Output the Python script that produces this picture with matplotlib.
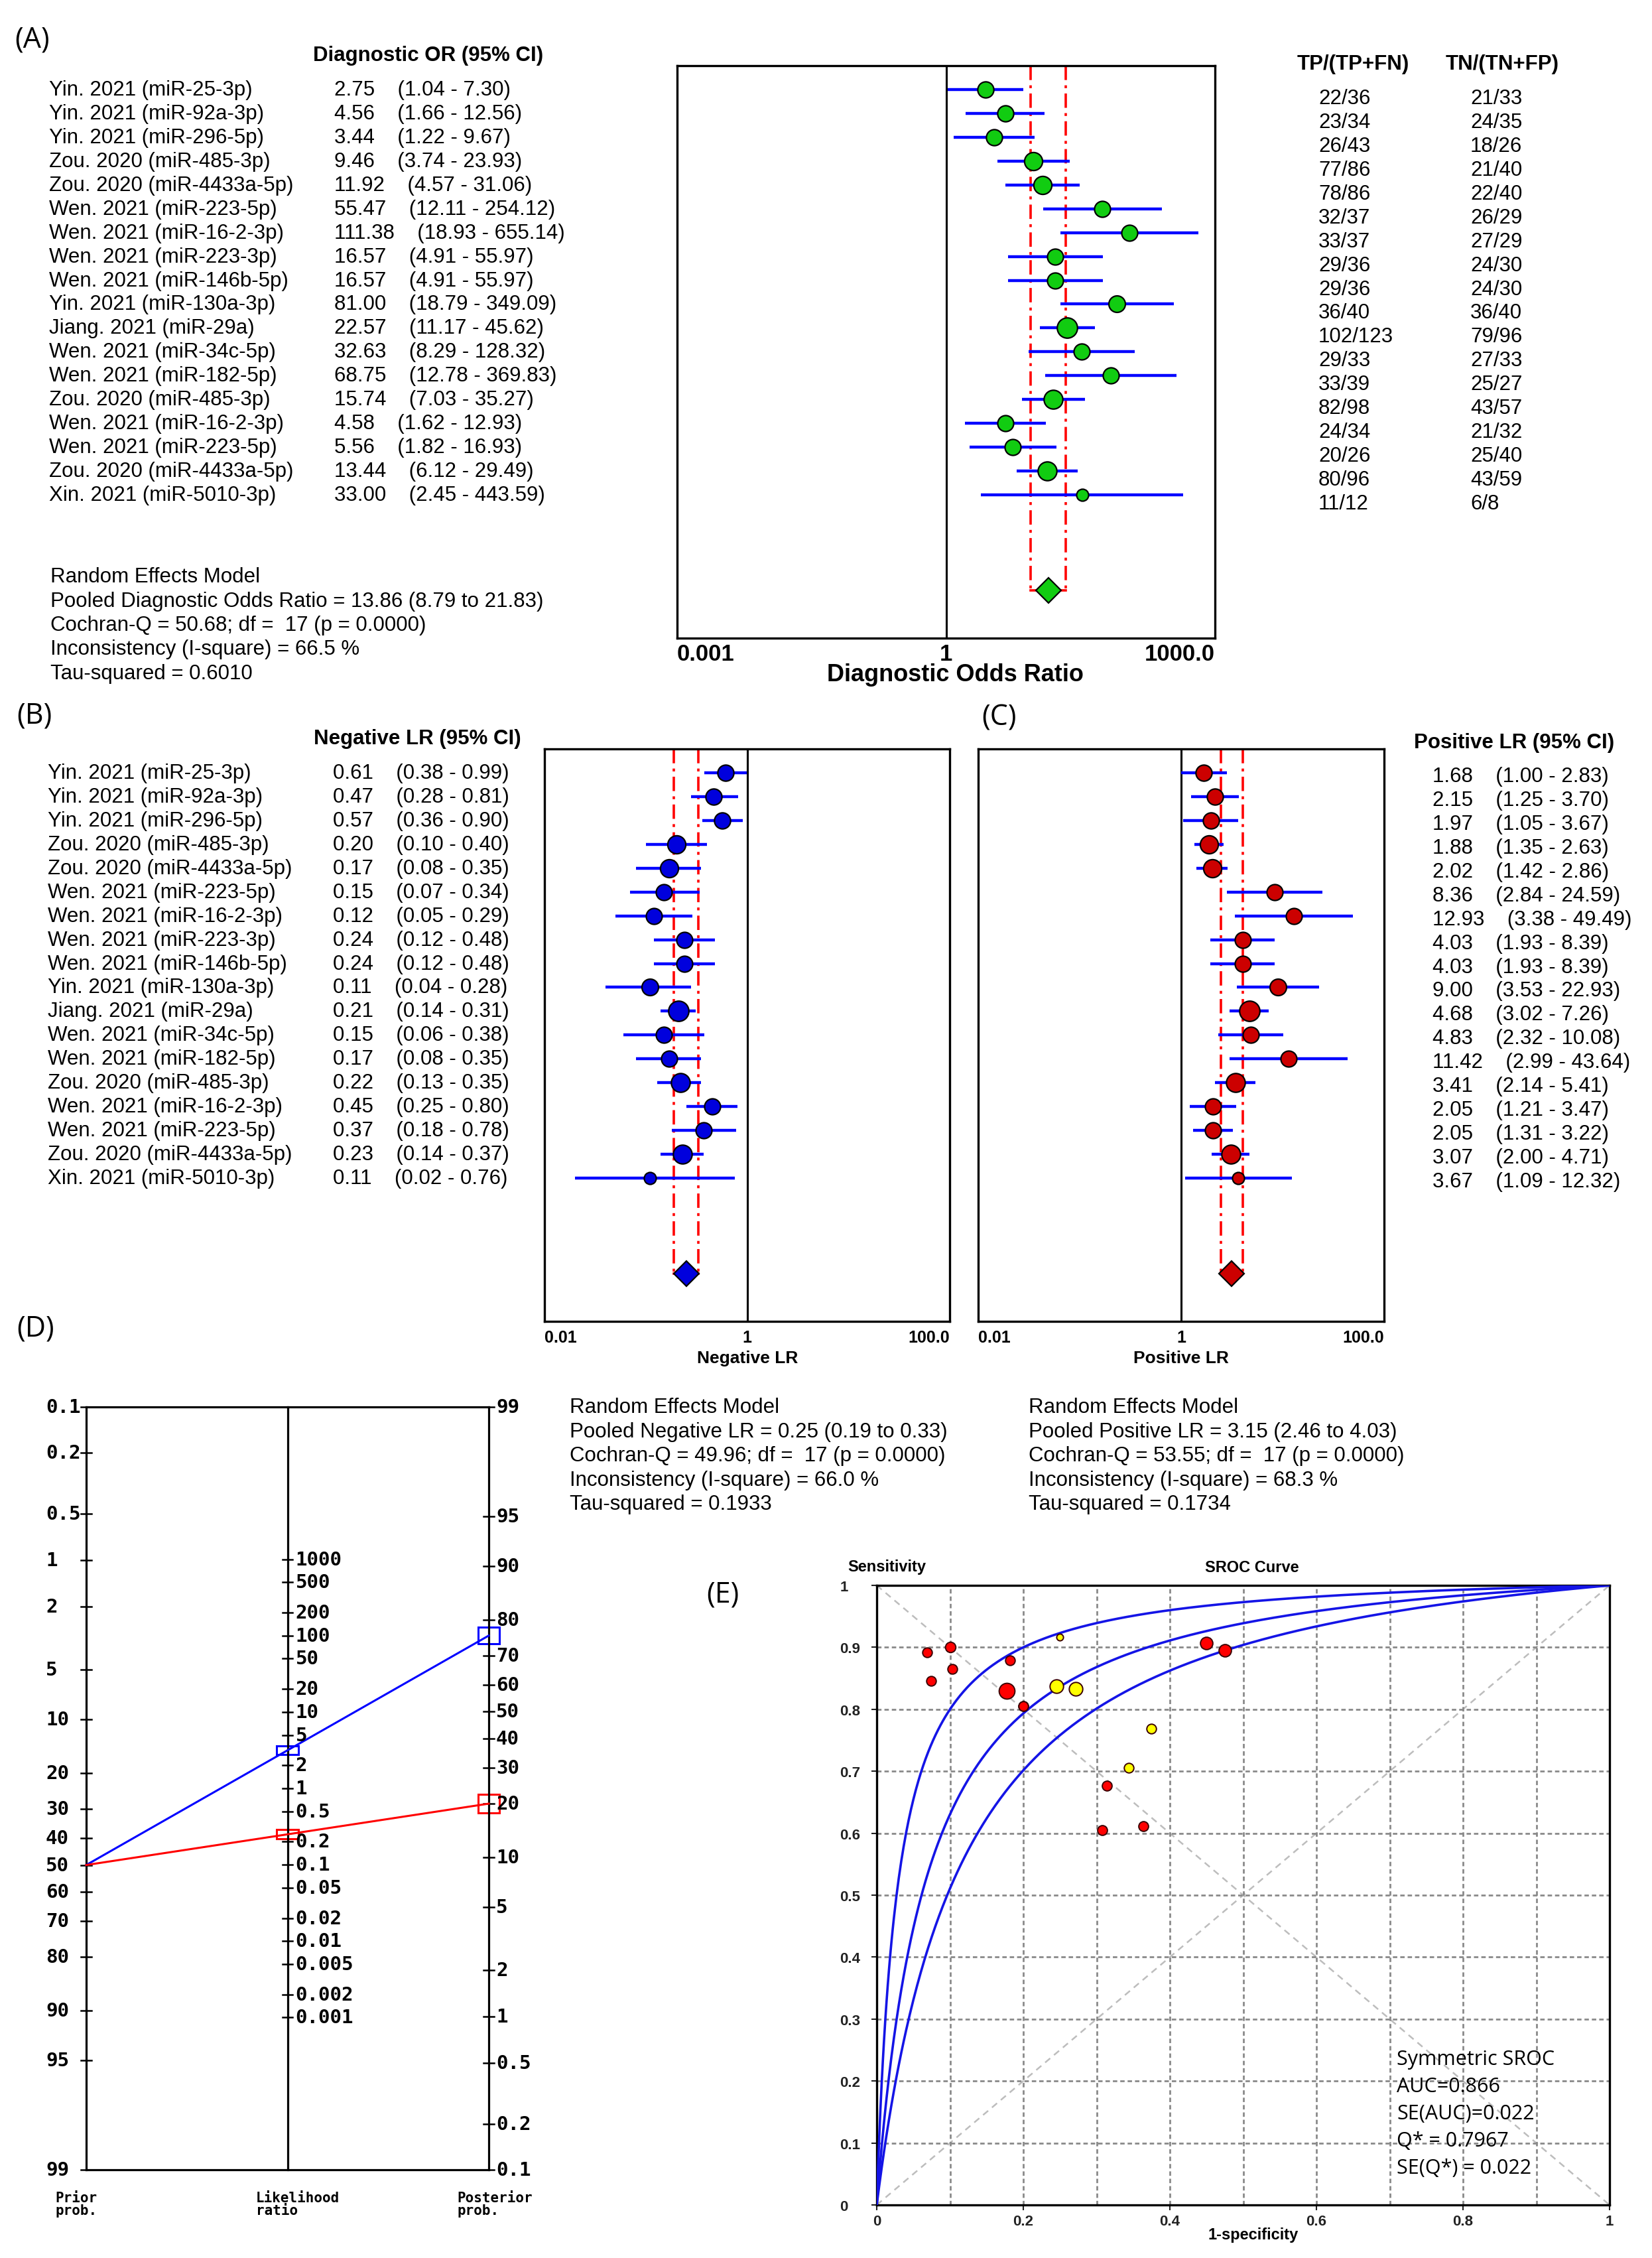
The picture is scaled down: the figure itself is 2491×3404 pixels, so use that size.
import numpy as np
import matplotlib
matplotlib.use("Agg")
import matplotlib.pyplot as plt
from matplotlib.patches import Rectangle
from matplotlib.ticker import NullLocator

plt.rcParams['font.family'] = ['Liberation Sans', 'DejaVu Sans']

# ---------------- data ----------------
studies = ["Yin. 2021 (miR-25-3p)", "Yin. 2021 (miR-92a-3p)", "Yin. 2021 (miR-296-5p)",
           "Zou. 2020 (miR-485-3p)", "Zou. 2020 (miR-4433a-5p)", "Wen. 2021 (miR-223-5p)",
           "Wen. 2021 (miR-16-2-3p)", "Wen. 2021 (miR-223-3p)", "Wen. 2021 (miR-146b-5p)",
           "Yin. 2021 (miR-130a-3p)", "Jiang. 2021 (miR-29a)", "Wen. 2021 (miR-34c-5p)",
           "Wen. 2021 (miR-182-5p)", "Zou. 2020 (miR-485-3p)", "Wen. 2021 (miR-16-2-3p)",
           "Wen. 2021 (miR-223-5p)", "Zou. 2020 (miR-4433a-5p)", "Xin. 2021 (miR-5010-3p)"]

dor = [2.75, 4.56, 3.44, 9.46, 11.92, 55.47, 111.38, 16.57, 16.57, 81.00, 22.57, 32.63, 68.75, 15.74, 4.58, 5.56, 13.44, 33.00]
dor_lo = [1.04, 1.66, 1.22, 3.74, 4.57, 12.11, 18.93, 4.91, 4.91, 18.79, 11.17, 8.29, 12.78, 7.03, 1.62, 1.82, 6.12, 2.45]
dor_hi = [7.30, 12.56, 9.67, 23.93, 31.06, 254.12, 655.14, 55.97, 55.97, 349.09, 45.62, 128.32, 369.83, 35.27, 12.93, 16.93, 29.49, 443.59]

nlr = [0.61, 0.47, 0.57, 0.20, 0.17, 0.15, 0.12, 0.24, 0.24, 0.11, 0.21, 0.15, 0.17, 0.22, 0.45, 0.37, 0.23, 0.11]
nlr_lo = [0.38, 0.28, 0.36, 0.10, 0.08, 0.07, 0.05, 0.12, 0.12, 0.04, 0.14, 0.06, 0.08, 0.13, 0.25, 0.18, 0.14, 0.02]
nlr_hi = [0.99, 0.81, 0.90, 0.40, 0.35, 0.34, 0.29, 0.48, 0.48, 0.28, 0.31, 0.38, 0.35, 0.35, 0.80, 0.78, 0.37, 0.76]

plr = [1.68, 2.15, 1.97, 1.88, 2.02, 8.36, 12.93, 4.03, 4.03, 9.00, 4.68, 4.83, 11.42, 3.41, 2.05, 2.05, 3.07, 3.67]
plr_lo = [1.00, 1.25, 1.05, 1.35, 1.42, 2.84, 3.38, 1.93, 1.93, 3.53, 3.02, 2.32, 2.99, 2.14, 1.21, 1.31, 2.00, 1.09]
plr_hi = [2.83, 3.70, 3.67, 2.63, 2.86, 24.59, 49.49, 8.39, 8.39, 22.93, 7.26, 10.08, 43.64, 5.41, 3.47, 3.22, 4.71, 12.32]

tp = [22, 23, 26, 77, 78, 32, 33, 29, 29, 36, 102, 29, 33, 82, 24, 20, 80, 11]
n_dis = [36, 34, 43, 86, 86, 37, 37, 36, 36, 40, 123, 33, 39, 98, 34, 26, 96, 12]
tn = [21, 24, 18, 21, 22, 26, 27, 24, 24, 36, 79, 27, 25, 43, 21, 25, 43, 6]
n_ndis = [33, 35, 26, 40, 40, 29, 29, 30, 30, 40, 96, 33, 27, 57, 32, 40, 59, 8]
sroc_group = [0, 0, 0, 0, 0, 0, 0, 0, 0, 0, 0, 0, 0, 1, 1, 1, 1, 1]

dor_pool = [13.86, 8.79, 21.83]
nlr_pool = [0.25, 0.19, 0.33]
plr_pool = [3.15, 2.46, 4.03]

stats_a = ["Cochran-Q = 50.68; df =  17 (p = 0.0000)", "Inconsistency (I-square) = 66.5 %", "Tau-squared = 0.6010"]
stats_b = ["Cochran-Q = 49.96; df =  17 (p = 0.0000)", "Inconsistency (I-square) = 66.0 %", "Tau-squared = 0.1933"]
stats_c = ["Cochran-Q = 53.55; df =  17 (p = 0.0000)", "Inconsistency (I-square) = 68.3 %", "Tau-squared = 0.1734"]

# fagan nomogram
pretest = 50
prior_ticks = [0.1, 0.2, 0.5, 1, 2, 5, 10, 20, 30, 40, 50, 60, 70, 80, 90, 95, 99]
lr_ticks = [1000, 500, 200, 100, 50, 20, 10, 5, 2, 1, 0.5, 0.2, 0.1, 0.05, 0.02, 0.01, 0.005, 0.002, 0.001]
post_ticks = [99, 95, 90, 80, 70, 60, 50, 40, 30, 20, 10, 5, 2, 1, 0.5, 0.2, 0.1]

# SROC (symmetric curve + two bounds, DOR)
sroc_dor = [36.0, 15.36, 9.4]
sroc_text = ["Symmetric SROC", "AUC=0.866", "SE(AUC)=0.022", "Q* = 0.7967", "SE(Q*) = 0.022"]

# ---------------- layout helpers (pixels) ----------------
W, H = 2491, 3405
fig = plt.figure(figsize=(W / 100, H / 100), dpi=100)
FS = 22.5
ROW = 35.94


def box(x0, y0, x1, y1):
    return [x0 / W, 1 - y1 / H, (x1 - x0) / W, (y1 - y0) / H]


def ptext(x, y, s, **kw):
    kw.setdefault('va', 'center')
    kw.setdefault('fontsize', FS)
    return fig.text(x / W, 1 - y / H, s, **kw)


n_tot = np.array(n_dis) + np.array(n_ndis)
marker_ms = 13 + 9 * np.sqrt((n_tot - n_tot.min()) / (n_tot.max() - n_tot.min()))


def forest(rect, est, lo, hi, pooled, xlim, ticklabels, face, tick_fs, tick_pad):
    ax = fig.add_axes(box(*rect))
    ax.set_xscale('log')
    ax.set_xlim(xlim)
    ax.set_ylim(23, -1)
    rows = np.arange(len(est))
    ax.axvline(1, color='black', lw=2.2, zorder=1)
    p, plo, phi = pooled
    for x in (plo, phi):
        ax.plot([x, x], [-1, 21], color='red', lw=2.6, ls=(0, (6, 2.2, 1.2, 2.2)), zorder=2)
    ax.plot([plo, phi], [21, 21], color='red', lw=2.6, zorder=2)
    ax.hlines(rows, lo, hi, color='#0000ff', lw=3.2, zorder=3)
    for r, e, s in zip(rows, est, marker_ms):
        ax.plot(e, r, 'o', ms=s, mfc=face, mec='black', mew=1.6, zorder=4)
    ax.plot(p, 21, 'D', ms=19, mfc=face, mec='black', mew=1.6, zorder=4)
    ax.set_yticks([])
    ax.set_xticks([xlim[0], 1, xlim[1]])
    ax.xaxis.set_minor_locator(NullLocator())
    ax.set_xticklabels(ticklabels, fontsize=tick_fs, fontweight='bold')
    labs = ax.get_xticklabels()
    labs[0].set_ha('left')
    labs[-1].set_ha('right')
    ax.tick_params(axis='x', length=0, pad=tick_pad)
    for sp in ax.spines.values():
        sp.set_linewidth(2.4)
    return ax


def panel_letter(x, y, s):
    ptext(x, y, s, fontsize=31, family='Open Sans', ha='left')


# ---------------- (A) diagnostic OR ----------------
panel_letter(22, 60, "(A)")
ptext(646, 84, "Diagnostic OR (95% CI)", ha='center', fontweight='bold')
for i, name in enumerate(studies):
    y = 136 + i * ROW
    ptext(74, y, name)
    ptext(504, y, f"{dor[i]:.2f}    ({dor_lo[i]:.2f} - {dor_hi[i]:.2f})")
    ptext(1988, y + 13, f"{tp[i]}/{n_dis[i]}")
    ptext(2217, y + 13, f"{tn[i]}/{n_ndis[i]}")
ptext(2040, 97, "TP/(TP+FN)", ha='center', fontweight='bold')
ptext(2265, 97, "TN/(TN+FP)", ha='center', fontweight='bold')
forest((1021, 136 - ROW, 1832, 136 + 23 * ROW), dor, dor_lo, dor_hi, dor_pool,
       (1e-3, 1e3), ["0.001", "1", "1000.0"], '#11cc11', 25, 5)
ptext(1440, 1018, "Diagnostic Odds Ratio", ha='center', fontweight='bold', fontsize=26)
lines_a = ["Random Effects Model",
           "Pooled Diagnostic Odds Ratio = %.2f (%.2f to %.2f)" % tuple(dor_pool)] + stats_a
for k, s in enumerate(lines_a):
    ptext(76, 870 + k * 36.5, s)

# ---------------- (B) negative LR ----------------
panel_letter(25, 1079, "(B)")
ptext(629, 1114, "Negative LR (95% CI)", ha='center', fontweight='bold')
for i, name in enumerate(studies):
    y = 1166 + i * ROW
    ptext(72, y, name)
    ptext(502, y, f"{nlr[i]:.2f}    ({nlr_lo[i]:.2f} - {nlr_hi[i]:.2f})")
forest((821, 1166 - ROW, 1432, 1166 + 23 * ROW), nlr, nlr_lo, nlr_hi, nlr_pool,
       (1e-2, 1e2), ["0.01", "1", "100.0"], '#0000dd', 18, 9)
ptext(1127, 2048, "Negative LR", ha='center', fontweight='bold', fontsize=19)
lines_b = ["Random Effects Model",
           "Pooled Negative LR = %.2f (%.2f to %.2f)" % tuple(nlr_pool)] + stats_b
for k, s in enumerate(lines_b):
    ptext(859, 2122 + k * 36.6, s)

# ---------------- (C) positive LR ----------------
panel_letter(1480, 1082, "(C)")
ptext(2283, 1120, "Positive LR (95% CI)", ha='center', fontweight='bold')
for i in range(len(studies)):
    y = 1171 + i * ROW
    ptext(2160, y, f"{plr[i]:.2f}    ({plr_lo[i]:.2f} - {plr_hi[i]:.2f})")
forest((1475, 1166 - ROW, 2087, 1166 + 23 * ROW), plr, plr_lo, plr_hi, plr_pool,
       (1e-2, 1e2), ["0.01", "1", "100.0"], '#cc0000', 18, 9)
ptext(1781, 2048, "Positive LR", ha='center', fontweight='bold', fontsize=19)
lines_c = ["Random Effects Model",
           "Pooled Positive LR = %.2f (%.2f to %.2f)" % tuple(plr_pool)] + stats_c
for k, s in enumerate(lines_c):
    ptext(1551, 2122 + k * 36.6, s)

# ---------------- (D) Fagan nomogram ----------------
panel_letter(25, 2003, "(D)")


def logit(p):
    return np.log(p / (1 - p))


top_u, bot_u = logit(0.001), logit(0.99)
axn = fig.add_axes(box(130, 2122, 737, 3272))
axn.set_xlim(0, 1)
axn.set_ylim(bot_u, top_u)
axn.axis('off')
for x in (0, 0.5, 1):
    axn.plot([x, x], [top_u, bot_u], color='black', lw=2.3, clip_on=False)
for u in (top_u, bot_u):
    axn.plot([0, 1], [u, u], color='black', lw=2.3, clip_on=False)

mono = dict(family='DejaVu Sans Mono', fontweight='bold', fontsize=21, va='center', ha='left')
tk = 0.013
for v in prior_ticks:
    u = logit(v / 100)
    axn.plot([-tk, tk], [u, u], color='black', lw=1.8, clip_on=False)
    axn.text(-0.1005, u, f"{v:g}", **mono)
for v in lr_ticks:
    u = (top_u + bot_u - np.log(v)) / 2
    axn.plot([0.5 - tk, 0.5 + tk], [u, u], color='black', lw=1.8, clip_on=False)
    axn.text(0.52, u, f"{v:g}", **mono)
for v in post_ticks:
    u = top_u + bot_u - logit(v / 100)
    axn.plot([1 - tk, 1 + tk], [u, u], color='black', lw=1.8, clip_on=False)
    axn.text(1.018, u, f"{v:g}", **mono)

prior_odds = pretest / (100 - pretest)
for pool, col in ((plr_pool, '#0000ff'), (nlr_pool, '#ff0000')):
    lr, lo, hi = pool
    post = prior_odds * lr / (1 + prior_odds * lr)
    u_r = top_u + bot_u - logit(post)
    axn.plot([0, 1], [logit(pretest / 100), u_r], color=col, lw=2.2, clip_on=False)
    # CI brackets (drawn at half span, as in the source nomogram)
    mid_u = (top_u + bot_u - np.log(lr)) / 2
    half = (np.log(hi) - np.log(lo)) / 8
    axn.add_patch(Rectangle((0.5 - 0.027, mid_u - half), 0.054, 2 * half, fill=False,
                            ec=col, lw=2.2, clip_on=False))
    axn.add_patch(Rectangle((1 - 0.027, u_r - 2 * half), 0.054, 4 * half, fill=False,
                            ec=col, lw=2.2, clip_on=False))

small_mono = dict(family='DejaVu Sans Mono', fontweight='bold', fontsize=15, va='top',
                  ha='left', linespacing=0.95)
axn.text(-0.077, bot_u + 0.32, "Prior\nprob.", **small_mono)
axn.text(0.422, bot_u + 0.32, "Likelihood\nratio", **small_mono)
axn.text(0.921, bot_u + 0.32, "Posterior\nprob.", **small_mono)

# ---------------- (E) SROC ----------------
panel_letter(1065, 2404, "(E)")
axs = fig.add_axes(box(1322, 2391, 2427, 3325))
axs.set_xlim(0, 1)
axs.set_ylim(0, 1)
axs.set_xticks(np.arange(0, 1.01, 0.2))
axs.set_xticks(np.arange(0.1, 1.0, 0.2), minor=True)
axs.set_yticks(np.arange(0, 1.01, 0.1))
axs.set_xticklabels([f"{v:g}" for v in np.round(np.arange(0, 1.01, 0.2), 1)])
axs.set_yticklabels([f"{v:g}" for v in np.round(np.arange(0, 1.01, 0.1), 1)])
axs.grid(True, which='both', ls=(0, (2.4, 1.6)), color='#8a8a8a', lw=2.0)
axs.tick_params(axis='both', which='major', labelsize=16, colors='#222222', length=6, width=1.5)
axs.tick_params(axis='x', which='minor', length=0)
axs.tick_params(axis='y', pad=34)
axs.tick_params(axis='x', pad=4)
for lbl in axs.get_yticklabels():
    lbl.set_ha('left')
    lbl.set_fontweight('bold')
for lbl in axs.get_xticklabels():
    lbl.set_fontweight('bold')
for sp in axs.spines.values():
    sp.set_linewidth(2.4)
axs.plot([0, 1], [0, 1], ls=(0, (4, 3)), color='#bdbdbd', lw=1.8, zorder=1)
axs.plot([0, 1], [1, 0], ls=(0, (4, 3)), color='#bdbdbd', lw=1.8, zorder=1)

fpr = np.linspace(1e-5, 1, 600)
for d in sroc_dor:
    axs.plot(fpr, d * fpr / (1 - fpr + d * fpr), color='#1414e6', lw=2.6, zorder=3)

sens = np.array(tp) / np.array(n_dis)
fp_rate = 1 - np.array(tn) / np.array(n_ndis)
for x, y, n, g in zip(fp_rate, sens, n_tot, sroc_group):
    axs.scatter(x, y, s=30 + 1.2 * n, c='#ff0000' if g == 0 else '#ffff00',
                edgecolors='#3a0000', linewidths=1.4, zorder=4)

ptext(1278, 2363, "Sensitivity", fontsize=17, fontweight='bold', ha='left')
ptext(1888, 2363, "SROC Curve", fontsize=17, fontweight='bold', ha='center')
ptext(1890, 3370, "1-specificity", fontsize=17, fontweight='bold', ha='center')
for k, s in enumerate(sroc_text):
    ptext(2106, 3105 + k * 41, s, family='Open Sans', fontsize=22, ha='left')

fig.savefig("out.png", dpi=100, facecolor='white')
